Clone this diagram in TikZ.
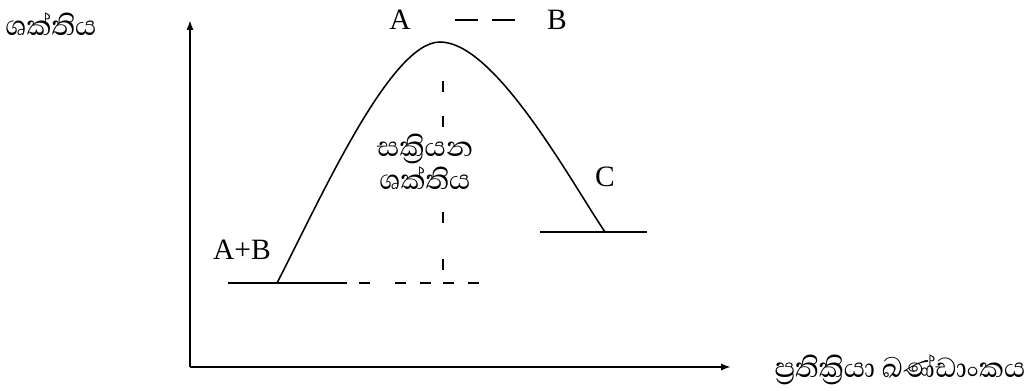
\documentclass[tikz,border=0pt]{standalone}
\usepackage{fontspec}
\setmainfont{Liberation Serif}
\newfontfamily\sinfont[Script=Sinhala]{Abhaya Libre}
\usetikzlibrary{arrows.meta}

\begin{document}
\begin{tikzpicture}[x=0.025cm, y=0.025cm,
    axis/.style={line width=1.3pt, -{Latex[length=7pt, width=5pt]}},
    curve/.style={line width=1.1pt},
    level/.style={line width=1pt},
    lbl/.style={font=\fontsize{21pt}{24pt}\selectfont, inner sep=0pt},
    sinlbl/.style={font=\sinfont\fontsize{25pt}{23.5pt}\selectfont, inner sep=0pt, align=center}]
    \useasboundingbox (0,0) rectangle (1025,390);

    % Trục
    \coordinate (O) at (190,23);
    \coordinate (ytip) at (190,370);
    \coordinate (xtip) at (731,23);
    \draw[axis] (O) -- (ytip);
    \draw[axis] (O) -- (xtip);
    \node[sinlbl] (ylab) at (51,366) {ශක්තිය};
    \node[sinlbl] (xlab) at (900,20) {ප්‍රතික්‍රියා ඛණ්ඩාංකය};

    % Mức năng lượng
    \coordinate (react) at (277,107);
    \coordinate (peak) at (440,348);
    \coordinate (prod) at (605,158);
    \draw[level] (228,107) -- (347,107);
    \draw[level] (540,158) -- (647,158);

    % Đường cong
    \draw[curve] (react) .. controls (320,190) and (390,348) .. (peak)
        .. controls (495,348) and (570,210) .. (prod);

    % Nét đứt
    \foreach \a in {359,395,420,443,468}
        \draw[level] (\a,107) -- ++(11,0);
    \foreach \b in {120,167,263,298}
        \draw[level] (443,\b) -- ++(0,11);

    % Nhãn
    \node[lbl] (A) at (400,370) {A};
    \node[lbl] (B) at (557,370) {B};
    \draw[level] (455,370) -- (478,370);
    \draw[level] (492,370) -- (515,370);
    \node[lbl] (AB) at (242,140) {A+B};
    \node[lbl] (C) at (605,213) {C};
    \node[sinlbl] (Ea) at (425,228) {සක්‍රියන\\ශක්තිය};
\end{tikzpicture}
\end{document}
